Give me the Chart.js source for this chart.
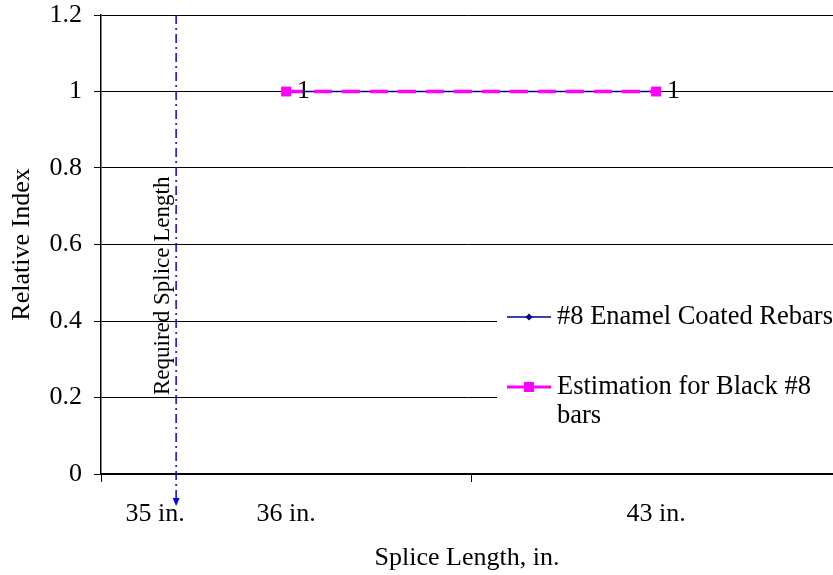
<!DOCTYPE html>
<html><head><meta charset="utf-8">
<script src="https://cdn.jsdelivr.net/npm/chart.js@4"></script>
<style>
html,body{margin:0;padding:0;overflow:hidden;background:#fff;width:833px;height:575px}
#wrap{position:relative;width:833px;height:575px}
</style></head>
<body><div id="wrap"><canvas id="c"></canvas></div>
<script>
const categories = ['36 in.', '43 in.'];
const enamelCoated = [1, 1];
const blackEstimation = [1, 1];
const yTicks = [0, 0.2, 0.4, 0.6, 0.8, 1, 1.2];
const seriesNames = ['#8 Enamel Coated Rebars', ['Estimation for Black #8', 'bars']];
const requiredLabel = '35 in.';
const requiredText = 'Required Splice Length';
const requiredPosition = 0.203;   // on the category-index axis (category i spans i..i+1)
const xVisibleMax = 1.978;        // visible part of the category axis (last category is cut at the right edge)

const FONT = 'Liberation Serif, Times New Roman, serif';
const FS = 26;

const toPoints = arr => arr.map((v, i) => ({ x: i + 0.5, y: v }));

const overlay = {
  id: 'overlay',
  afterDatasetsDraw(chart) {
    const ctx = chart.ctx;
    const meta = chart.getDatasetMeta(1);
    ctx.save();
    ctx.fillStyle = '#000';
    ctx.font = FS + 'px ' + FONT;
    ctx.textAlign = 'left';
    ctx.textBaseline = 'middle';
    meta.data.forEach((p, i) => {
      ctx.fillText(String(blackEstimation[i]), p.x + 11, p.y);
    });
    ctx.restore();
  },
  afterDraw(chart) {
    const ctx = chart.ctx;
    const xs = chart.scales.x, ys = chart.scales.y;
    ctx.save();
    // category boundary tick marks
    ctx.strokeStyle = '#000';
    ctx.lineWidth = 1;
    for (let i = 0; i <= categories.length; i++) {
      const px = Math.round(xs.getPixelForValue(i)) + 0.5;
      if (px > chart.width) continue;
      ctx.beginPath(); ctx.moveTo(px, xs.top); ctx.lineTo(px, xs.top + 8); ctx.stroke();
    }
    // required splice length arrow
    const ax = xs.getPixelForValue(requiredPosition);
    const top = ys.getPixelForValue(1.2);
    const bot = 506;
    ctx.strokeStyle = '#0000FF';
    ctx.lineWidth = 1.5;
    ctx.setLineDash([9, 4, 2, 4]);
    ctx.beginPath(); ctx.moveTo(ax, top); ctx.lineTo(ax, bot - 4); ctx.stroke();
    ctx.setLineDash([]);
    ctx.fillStyle = '#0000FF';
    ctx.beginPath(); ctx.moveTo(ax - 3.5, bot - 8); ctx.lineTo(ax + 3.5, bot - 8); ctx.lineTo(ax, bot); ctx.closePath(); ctx.fill();
    // rotated annotation text
    ctx.fillStyle = '#000';
    ctx.font = '23px ' + FONT;
    ctx.save();
    ctx.translate(ax - 13, ys.getPixelForValue(0.492));
    ctx.rotate(-Math.PI / 2);
    ctx.textAlign = 'center'; ctx.textBaseline = 'middle';
    ctx.fillText(requiredText, 0, 0);
    ctx.restore();
    // 35 in. label
    ctx.font = FS + 'px ' + FONT;
    ctx.textAlign = 'center'; ctx.textBaseline = 'middle';
    ctx.fillText(requiredLabel, ax - 21, 514);

    // legend
    ctx.fillStyle = '#fff';
    ctx.fillRect(497, 298, 340, 142);
    const ds = chart.data.datasets;
    const rows = [317, 387];
    ds.forEach((d, i) => {
      const y = rows[i];
      ctx.strokeStyle = d.borderColor;
      ctx.lineWidth = i === 0 ? 1.5 : 3;
      ctx.beginPath(); ctx.moveTo(507, y); ctx.lineTo(551, y); ctx.stroke();
      ctx.fillStyle = d.pointBackgroundColor;
      if (i === 0) {
        ctx.beginPath(); ctx.moveTo(529, y - 3.5); ctx.lineTo(532.5, y); ctx.lineTo(529, y + 3.5); ctx.lineTo(525.5, y); ctx.closePath(); ctx.fill();
      } else {
        ctx.fillRect(524, y - 5, 10, 10);
      }
      ctx.fillStyle = '#000';
      ctx.font = '26.5px ' + FONT;
      ctx.textAlign = 'left'; ctx.textBaseline = 'middle';
      const lines = Array.isArray(d.label) ? d.label : [d.label];
      lines.forEach((t, k) => ctx.fillText(t, 557, y + k * 29));
    });
    ctx.restore();
  }
};

new Chart(document.getElementById('c'), {
  type: 'line',
  data: {
    datasets: [
      {
        label: seriesNames[0],
        data: toPoints(enamelCoated),
        borderColor: '#000080',
        backgroundColor: '#000080',
        pointBackgroundColor: '#000080',
        pointBorderColor: '#000080',
        borderWidth: 1.5,
        pointStyle: 'rectRot',
        pointRadius: 3.5,
        order: 1
      },
      {
        label: seriesNames[1],
        data: toPoints(blackEstimation),
        borderColor: '#FF00FF',
        backgroundColor: '#FF00FF',
        pointBackgroundColor: '#FF00FF',
        pointBorderColor: '#FF00FF',
        borderWidth: 3.5,
        borderDash: [18, 10],
        pointStyle: 'rect',
        pointRadius: 7,
        pointBorderWidth: 0,
        order: 0
      }
    ]
  },
  options: {
    responsive: true,
    maintainAspectRatio: false,
    animation: false,
    layout: { autoPadding: false, padding: { top: 15, left: 0, right: 0, bottom: 0 } },
    plugins: { legend: { display: false }, tooltip: { enabled: false } },
    scales: {
      x: {
        type: 'linear',
        min: 0, max: xVisibleMax,
        afterBuildTicks(s) { s.ticks = categories.map((c, i) => ({ value: i + 0.5 })); },
        grid: { display: true, drawOnChartArea: false, drawTicks: false },
        border: { display: true, color: '#000', width: 1.5 },
        ticks: { color: '#000', font: { family: FONT, size: FS }, padding: 25, maxRotation: 0, autoSkip: false,
                 callback: v => categories[Math.floor(v)] },
        title: { display: true, text: 'Splice Length, in.', color: '#000', font: { family: FONT, size: FS }, padding: { top: 0, bottom: 1 } },
        afterFit(s) { s.height = 101; s.paddingLeft = 0; s.paddingRight = 0; }
      },
      y: {
        min: 0, max: 1.2,
        afterBuildTicks(s) { s.ticks = yTicks.map(v => ({ value: v })); },
        grid: { color: '#000', lineWidth: 1, tickLength: 7 },
        border: { display: true, color: '#000', width: 1.5 },
        ticks: { color: '#000', font: { family: FONT, size: FS }, padding: 12, callback: v => String(v) },
        title: { display: true, text: 'Relative Index', color: '#000', font: { family: FONT, size: FS }, padding: { top: 7, bottom: 0 } },
        afterFit(s) { s.width = 101; s.paddingTop = 0; s.paddingBottom = 0; }
      }
    }
  },
  plugins: [overlay]
});
</script>
</body></html>
